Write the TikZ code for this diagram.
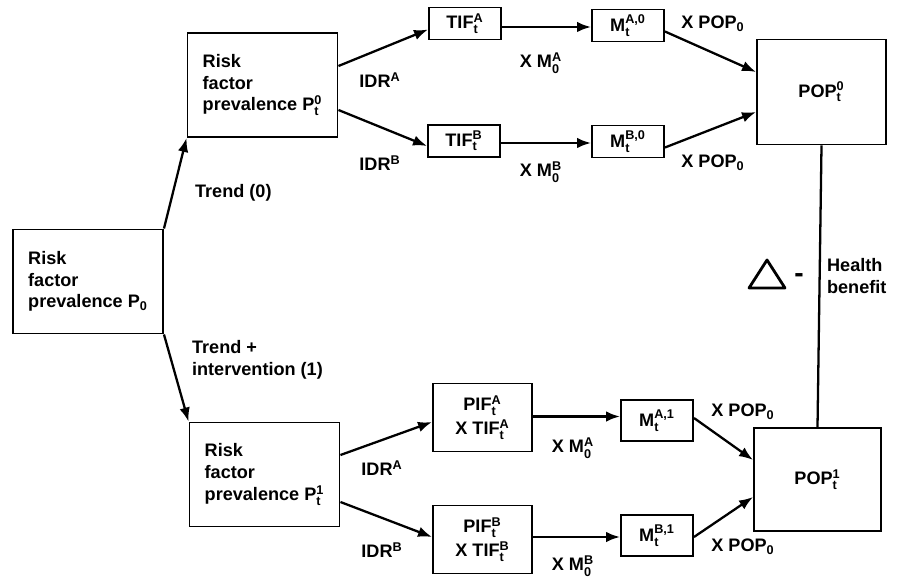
\documentclass[tikz,border=0pt]{standalone}
\usepackage{fontspec}
\setmainfont{Liberation Sans}
\usepackage{amsmath}
\usetikzlibrary{arrows.meta}
\newcommand{\ix}[2]{$_{\text{#1}}^{\text{#2}}$}
\begin{document}
\begin{tikzpicture}[
  font=\bfseries\fontsize{10.3}{12.4}\selectfont,
  box/.style={draw,line width=1.1pt,align=left,inner sep=0pt},
  riskbox/.style={box,minimum width=3cm,minimum height=2.08cm},
  smallbox/.style={box,minimum width=1.44cm,minimum height=0.64cm},
  pifbox/.style={box,align=center,minimum width=1.98cm,minimum height=1.36cm},
  popbox/.style={box,minimum width=2.58cm,minimum height=2.1cm},
  arr/.style={-{Latex[length=2.8mm,width=2.1mm]},line width=1.3pt},
  lbl/.style={inner sep=1pt}]
\useasboundingbox (0,0) rectangle (17.96,11.6);

\node[riskbox] (p0) at (1.76,5.97) {Risk\\factor\\prevalence P$_{\text{0}}$};
\node[riskbox] (pt0) at (5.25,9.9) {Risk\\factor\\prevalence P\ix{t}{0}};
\node[riskbox] (pt1) at (5.29,2.11) {Risk\\factor\\prevalence P\ix{t}{1}};

\draw[arr] (p0.north east) -- (pt0.south west);
\draw[arr] (p0.south east) -- (pt1.north west);
\node[lbl,anchor=west] (trend0) at (3.86,7.74) {Trend (0)};
\node[lbl,anchor=west,align=left] (trend1) at (3.8,4.4) {Trend +\\intervention (1)};

\node[smallbox] (tifA) at (9.3,11.13) {TIF\ix{t}{A}};
\node[smallbox] (tifB) at (9.28,8.78) {TIF\ix{t}{B}};
\node[smallbox] (mA0) at (12.56,11.09) {M\ix{t}{A,0}};
\node[smallbox] (mB0) at (12.56,8.77) {M\ix{t}{B,0}};
\node[popbox] (pop0) at (16.43,9.76) {POP\ix{t}{0}};

\draw[arr] ([yshift=0.38cm]pt0.east) -- ([yshift=-0.12cm]tifA.west);
\draw[arr] ([yshift=-0.5cm]pt0.east) -- ([yshift=-0.1cm]tifB.west);
\draw[arr] ([yshift=-0.07cm]tifA.east) -- ([yshift=-0.07cm]tifA.east -| mA0.west);
\draw[arr] ([yshift=-0.04cm]tifB.east) -- ([yshift=-0.04cm]tifB.east -| mB0.west);
\draw[arr] ([yshift=-0.12cm]mA0.east) -- ([yshift=0.4cm]pop0.west);
\draw[arr] ([yshift=-0.12cm]mB0.east) -- ([yshift=-0.4cm]pop0.west);

\node[lbl] (idrA0) at (7.6,10.0) {IDR$^{\text{A}}$};
\node[lbl] (idrB0) at (7.6,8.34) {IDR$^{\text{B}}$};
\node[lbl] (mulA0) at (10.82,10.34) {X M\ix{0}{A}};
\node[lbl] (mulB0) at (10.82,8.16) {X M\ix{0}{B}};
\node[lbl] (popA0) at (14.26,11.12) {X POP$_{\text{0}}$};
\node[lbl] (popB0) at (14.26,8.34) {X POP$_{\text{0}}$};

\node[pifbox] (pifA) at (9.65,3.25) {PIF\ix{t}{A}\\[1pt]X TIF\ix{t}{A}};
\node[pifbox] (pifB) at (9.65,0.81) {PIF\ix{t}{B}\\[1pt]X TIF\ix{t}{B}};
\node[smallbox,minimum height=0.82cm] (mA1) at (13.14,3.19) {M\ix{t}{A,1}};
\node[smallbox,minimum height=0.82cm] (mB1) at (13.14,0.89) {M\ix{t}{B,1}};
\node[popbox,minimum width=2.54cm,minimum height=2.06cm] (pop1) at (16.35,2.01) {POP\ix{t}{1}};

\draw[arr] ([yshift=0.39cm]pt1.east) -- ([yshift=-0.09cm]pifA.west);
\draw[arr] ([yshift=-0.55cm]pt1.east) -- ([yshift=0.05cm]pifB.west);
\draw[arr] ([yshift=0.02cm]pifA.east) -- ([yshift=0.02cm]pifA.east -| mA1.west);
\draw[arr] ([yshift=0.05cm]pifB.east) -- ([yshift=0.05cm]pifB.east -| mB1.west);
\draw[arr] ([yshift=0.05cm]mA1.east) -- ([yshift=0.39cm]pop1.west);
\draw[arr] ([yshift=-0.03cm]mB1.east) -- ([yshift=-0.35cm]pop1.west);

\node[lbl] (idrA1) at (7.64,2.24) {IDR$^{\text{A}}$};
\node[lbl] (idrB1) at (7.64,0.6) {IDR$^{\text{B}}$};
\node[lbl] (mulA1) at (11.46,2.64) {X M\ix{0}{A}};
\node[lbl] (mulB1) at (11.46,0.28) {X M\ix{0}{B}};
\node[lbl] (popA1) at (14.86,3.36) {X POP$_{\text{0}}$};
\node[lbl] (popB1) at (14.86,0.66) {X POP$_{\text{0}}$};

\draw[line width=1.3pt] (pop0.south) -- (pop1.north);
\draw[line width=1.6pt,line join=round] (14.98,5.84) -- (15.7,5.84) -- (15.34,6.4) -- cycle;
\node[lbl,font=\bfseries\fontsize{16}{16}\selectfont] (eq) at (15.98,6.04) {-};
\node[lbl,anchor=west,align=left] (benefit) at (16.5,6.08) {Health\\benefit};
\end{tikzpicture}
\end{document}
